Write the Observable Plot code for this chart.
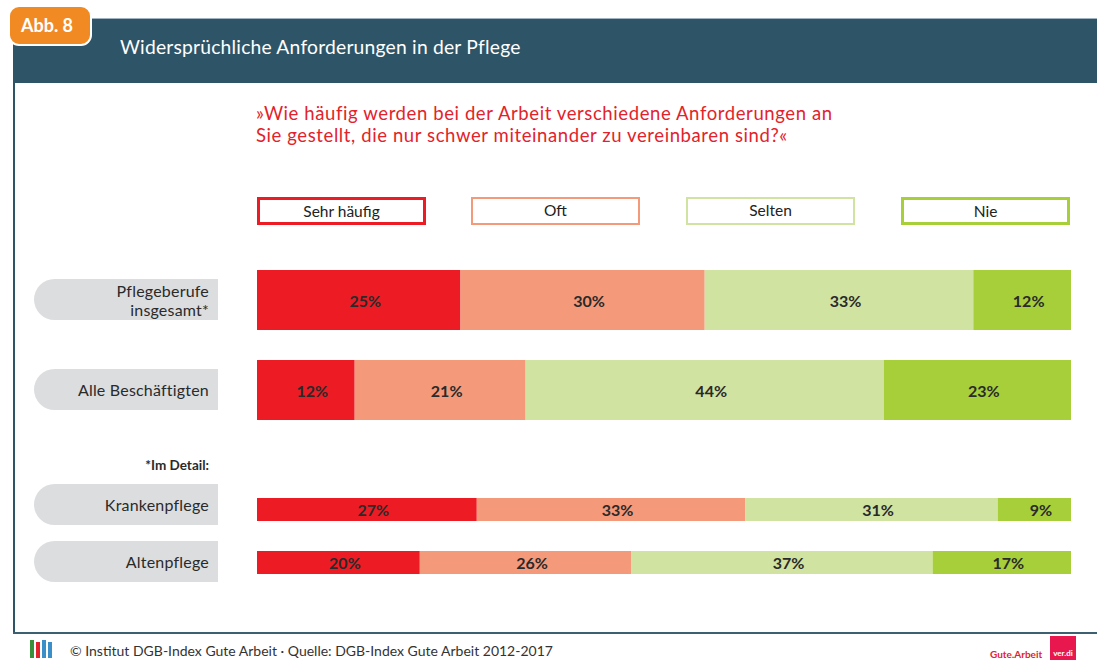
<!DOCTYPE html>
<html><head><meta charset="utf-8">
<script src="https://cdn.jsdelivr.net/npm/d3@7"></script>
<script src="https://cdn.jsdelivr.net/npm/@observablehq/plot@0.6"></script>
<style>
html,body{margin:0;padding:0;background:#fff;}
#page{position:relative;width:1097px;height:660px;overflow:hidden;font-family:Lato,"Open Sans",sans-serif;color:#2a2a2a;}
.abs{position:absolute;}
#header{left:13px;top:18px;width:1084px;height:65px;background:#2e5468;border-top:1px solid #9fb3c0;box-sizing:border-box;}
#title{left:120px;top:35px;color:#fff;font-size:19.3px;letter-spacing:0.2px;}
#tab{left:8px;top:5px;width:84px;height:41px;background:#f28a24;border:2px solid #fff;border-radius:11px;box-sizing:border-box;color:#fff;font-weight:bold;font-size:18px;line-height:37px;padding-left:11px;}
#lborder{left:13px;top:83px;width:2px;height:551px;background:#2e5468;}
#bborder{left:13px;top:632px;width:1084px;height:2px;background:#3d5f72;}
#question{left:256px;top:102px;color:#e3222b;font-size:18.5px;letter-spacing:0.6px;line-height:22px;}
.leg{top:197px;height:28px;box-sizing:border-box;background:#fff;text-align:center;font-size:15.5px;line-height:23px;color:#222;}
.pill{left:34px;width:184px;background:#dcdddf;border-radius:21px 0 0 21px;box-sizing:border-box;padding-right:9px;text-align:right;font-size:16px;letter-spacing:0.2px;color:#2a2a2a;display:flex;align-items:center;justify-content:flex-end;line-height:19px;}
#detail{left:60px;top:457px;width:149px;text-align:right;font-size:13.5px;font-weight:bold;color:#2a2a2a;}
#footer{left:70px;top:642px;font-size:14px;color:#333;}
.row svg{display:block;}
</style></head>
<body><div id="page">
<div id="header" class="abs"></div>
<div id="title" class="abs">Widersprüchliche Anforderungen in der Pflege</div>
<div id="tab" class="abs">Abb. 8</div>
<div id="lborder" class="abs"></div>
<div id="bborder" class="abs"></div>
<div id="question" class="abs">»Wie häufig werden bei der Arbeit verschiedene Anforderungen an<br>Sie gestellt, die nur schwer miteinander zu vereinbaren sind?«</div>
<div id="detail" class="abs">*Im Detail:</div>
<div id="footer" class="abs">© Institut DGB-Index Gute Arbeit · Quelle: DGB-Index Gute Arbeit 2012-2017</div>
<div class="abs" style="left:30px;top:640px;width:4px;height:18px;background:#3a8f3a"></div>
<div class="abs" style="left:36px;top:642px;width:4px;height:16px;background:#e3222b"></div>
<div class="abs" style="left:42px;top:640px;width:4px;height:18px;background:#3a8fc8"></div>
<div class="abs" style="left:48px;top:642px;width:4px;height:16px;background:#3a8fc8"></div>
<div class="abs" style="left:990px;top:648px;color:#e3222b;font-size:10px;font-weight:bold;">Gute<span style="color:#2e5468">.</span>Arbeit</div>
<div class="abs" style="left:1050px;top:636px;width:26px;height:24px;background:#e8174e;color:#fff;font-size:8px;font-weight:bold;line-height:34px;text-align:center;">ver.di</div>
</div>
<script>
const categories = ["Sehr häufig", "Oft", "Selten", "Nie"];
const colors = ["#ed1c24", "#f5997b", "#d1e3a1", "#a7cf3a"];
const groups = ["Pflegeberufe insgesamt*", "Alle Beschäftigten", "Krankenpflege", "Altenpflege"];
const groupLines = [["Pflegeberufe", "insgesamt*"], ["Alle Beschäftigten"], ["Krankenpflege"], ["Altenpflege"]];
const sehrHaeufig = [25, 12, 27, 20];
const oft = [30, 21, 33, 26];
const selten = [33, 44, 31, 37];
const nie = [12, 23, 9, 17];
const series = [sehrHaeufig, oft, selten, nie];

// layout (pixel positions of the page elements)
const rowTop = [270, 360, 498, 551];
const rowH = [60, 60, 23, 23];
const pillTop = [279, 369, 484, 541];
const pillH = [41, 41, 41, 41];
const legendX = [257, 471, 686, 901];
const legendW = 169;
const legendBorder = [3, 2.5, 2.5, 3];

const page = document.getElementById("page");
categories.forEach((c, i) => {
  const d = document.createElement("div");
  d.className = "abs leg";
  d.style.left = legendX[i] + "px";
  d.style.width = legendW + "px";
  d.style.border = legendBorder[i] + "px solid " + colors[i];
  d.textContent = c;
  page.appendChild(d);
});
groups.forEach((g, i) => {
  const p = document.createElement("div");
  p.className = "abs pill";
  p.style.top = pillTop[i] + "px";
  p.style.height = pillH[i] + "px";
  p.innerHTML = groupLines[i].join("<br>");
  page.appendChild(p);

  const data = categories.map((c, j) => ({row: g, cat: c, value: series[j][i]}));
  const chart = Plot.plot({
    width: 1097,
    height: rowH[i],
    marginLeft: 257, marginRight: 26, marginTop: 0, marginBottom: 0,
    x: {domain: [0, 100], axis: null},
    y: {domain: [g], axis: null, padding: 0},
    color: {domain: categories, range: colors},
    style: {fontFamily: "Lato, 'Open Sans', sans-serif", background: "transparent"},
    marks: [
      Plot.barX(data, Plot.stackX({x: "value", y: "row", z: "cat", fill: "cat", order: categories})),
      Plot.text(data, Plot.stackX({x: "value", y: "row", z: "cat", order: categories, text: d => d.value + "%", dx: 6, dy: 1,
        fill: "#2a2a2a", fontWeight: "bold", fontSize: 16}))
    ]
  });
  const wrap = document.createElement("div");
  wrap.className = "abs row";
  wrap.style.left = "0px";
  wrap.style.top = rowTop[i] + "px";
  wrap.appendChild(chart);
  page.appendChild(wrap);
});
</script>
</body></html>
